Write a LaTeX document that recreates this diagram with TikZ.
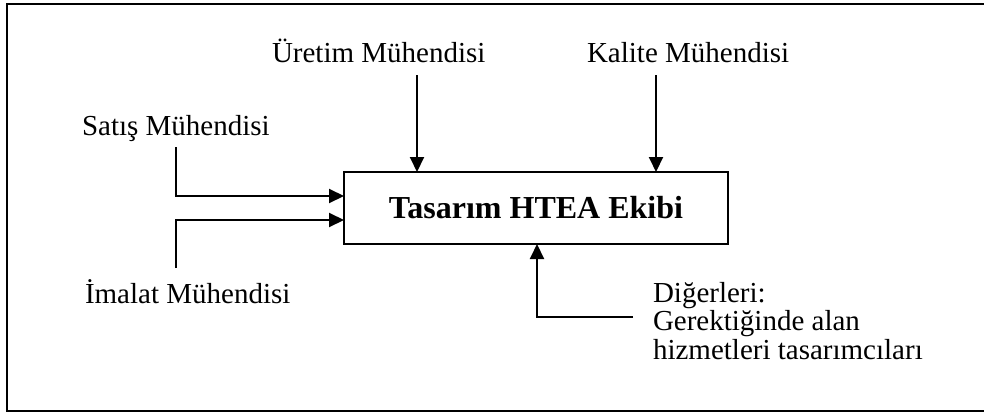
\documentclass[tikz,border=0pt]{standalone}
\usepackage{fontspec}
\setmainfont{Liberation Serif}
\usetikzlibrary{arrows.meta}

\tikzset{
  label/.style={anchor=base west, inner sep=0pt, outer sep=0pt,
    font=\fontsize{29}{28.5}\selectfont},
  teambox/.style={draw, line width=2pt, inner sep=0pt, outer sep=0pt,
    minimum width=384pt, minimum height=72pt,
    font=\fontsize{32}{34}\selectfont\bfseries},
  feed/.style={line width=2pt, -{Triangle[length=15pt,width=14pt]}},
  frame/.style={line width=2.4pt}
}

\begin{document}
\begin{tikzpicture}[x=1pt, y=-1pt]
  \useasboundingbox (0,0) rectangle (984,412);

  % outer frame (runs past the right edge of the page)
  \draw[frame] (995,4) -- (7,4) -- (7,411) -- (995,411);

  % central team box
  \node[teambox] (box) at (536,208) {Tasarım HTEA Ekibi};

  % labels
  \node[label] (uretim) at (272,63) {Üretim Mühendisi};
  \node[label] (kalite) at (587,63) {Kalite Mühendisi};
  \node[label] (satis) at (82,135) {Satış Mühendisi};
  \node[label] (imalat) at (85,303) {İmalat Mühendisi};
  \node[label, align=left, anchor=north west] (diger) at (653,282)
    {Diğerleri:\\Gerektiğinde alan\\hizmetleri tasarımcıları};

  % start points of the feeds
  \coordinate (us) at (417,75);
  \coordinate (ks) at (656,75);
  \coordinate (ss) at (176,147);
  \coordinate (is) at (176,268);
  \coordinate (ds) at (633,317);

  % feeds into the team
  \draw[feed] (us) -- (us |- box.north);
  \draw[feed] (ks) -- (ks |- box.north);
  \draw[feed] (ss) |- ([yshift=12pt]box.west);
  \draw[feed] (is) |- ([yshift=-12pt]box.west);
  \draw[feed] (ds) -| ([xshift=1pt]box.south);
\end{tikzpicture}
\end{document}
